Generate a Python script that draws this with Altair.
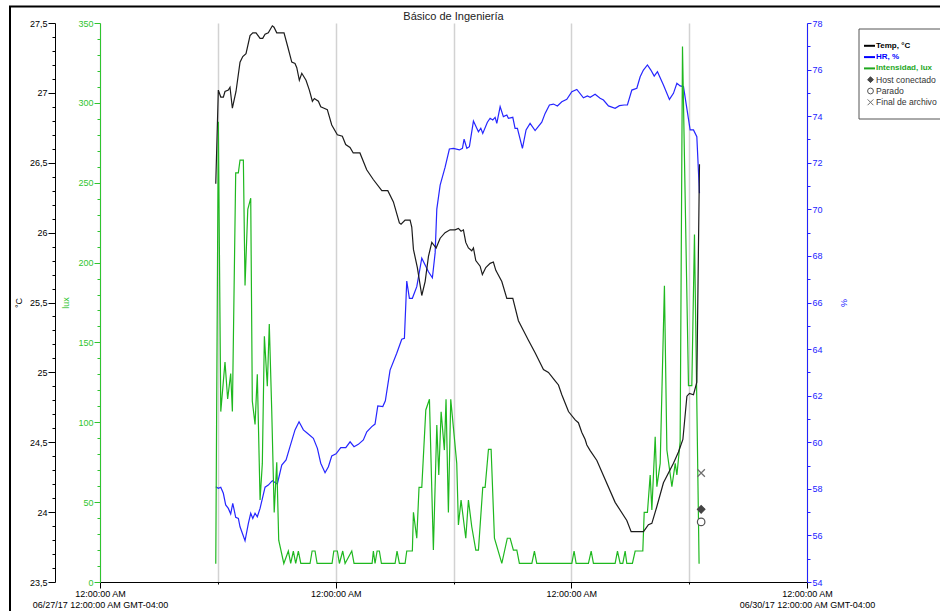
import altair as alt
import pandas as pd

# ---- logged series (hours since 06/27/17 12:00:00 AM GMT-04:00) ----
temp_hours = [
    11.79, 12.05, 12.30, 12.56, 12.73, 13.07, 13.24, 13.48, 13.85, 14.26,
    14.54, 14.87, 15.28, 15.56, 15.89, 16.30, 16.57, 16.81, 17.14, 17.55,
    17.72, 18.00, 18.74, 19.12, 19.53, 19.86, 20.04, 20.30, 20.55, 20.98,
    21.32, 21.63, 21.83, 22.24, 22.48, 22.82, 23.15, 23.60, 24.17, 24.68,
    25.02, 25.46, 25.79, 26.47, 27.16, 27.83, 28.70, 29.31, 29.88, 30.49,
    30.66, 31.07, 31.58, 31.75, 31.92, 32.32, 32.77, 33.11, 33.45, 33.79,
    34.23, 34.64, 35.14, 35.65, 36.16, 36.50, 36.77, 37.01, 37.25, 37.52,
    37.86, 38.03, 38.27, 38.71, 38.94, 39.29, 39.73, 40.06, 40.31, 40.92,
    41.43, 42.04, 42.61, 43.12, 43.63, 44.31, 45.16, 45.67, 46.35, 46.69,
    47.03, 47.54, 47.71, 48.39, 48.72, 49.07, 49.41, 49.58, 49.92, 50.60,
    52.46, 53.65, 54.09, 55.35, 55.85, 56.20, 56.71, 57.38, 58.40, 58.91,
    59.36, 59.77, 60.03, 60.44, 60.78, 61.05,
]
temp_vals = [
    26.35, 27.02, 26.97, 26.97, 27.01, 27.02, 27.04, 26.89, 27.01, 27.22,
    27.26, 27.28, 27.41, 27.43, 27.43, 27.39, 27.39, 27.42, 27.43, 27.48,
    27.47, 27.43, 27.43, 27.33, 27.22, 27.21, 27.18, 27.09, 27.14, 27.09,
    27.02, 26.94, 26.96, 26.94, 26.90, 26.89, 26.88, 26.77, 26.70, 26.69,
    26.63, 26.61, 26.57, 26.57, 26.45, 26.38, 26.30, 26.30, 26.22, 26.07,
    26.06, 26.09, 26.09, 26.04, 25.88, 25.75, 25.55, 25.65, 25.83, 25.93,
    25.89, 25.96, 26.00, 26.02, 26.02, 26.03, 26.01, 26.02, 25.93, 25.89,
    25.87, 25.89, 25.80, 25.76, 25.70, 25.75, 25.78, 25.79, 25.73, 25.65,
    25.53, 25.53, 25.37, 25.30, 25.23, 25.14, 25.02, 25.00, 24.94, 24.91,
    24.84, 24.75, 24.72, 24.66, 24.64, 24.57, 24.52, 24.48, 24.44, 24.37,
    24.07, 23.94, 23.86, 23.86, 23.91, 23.92, 24.04, 24.21, 24.35, 24.43,
    24.52, 24.83, 24.85, 24.84, 24.93, 26.49,
]

hr_hours = [
    11.79, 12.05, 12.30, 12.56, 12.80, 13.07, 13.31, 13.52, 13.82, 14.09,
    14.26, 14.77, 15.11, 15.35, 15.56, 15.79, 16.02, 16.30, 16.81, 17.14,
    17.55, 18.06, 18.51, 18.95, 19.35, 19.86, 20.27, 20.71, 21.06, 21.73,
    22.14, 22.48, 22.92, 23.26, 23.60, 24.04, 24.52, 25.03, 25.47, 25.87,
    26.31, 26.82, 27.17, 27.68, 28.01, 28.29, 28.80, 29.06, 29.54, 30.22,
    30.73, 31.00, 31.24, 31.51, 31.81, 32.26, 32.77, 33.45, 33.85, 34.13,
    34.30, 34.64, 35.14, 35.58, 35.99, 36.60, 36.91, 37.08, 37.36, 37.62,
    38.03, 38.54, 38.78, 38.98, 39.45, 39.73, 40.00, 40.24, 40.41, 40.75,
    41.08, 41.43, 41.59, 42.04, 42.27, 42.51, 43.02, 43.39, 43.80, 44.31,
    44.99, 45.33, 45.77, 46.18, 46.58, 47.03, 47.54, 48.05, 48.56, 49.23,
    49.64, 49.92, 50.42, 50.93, 51.27, 51.78, 52.46, 52.90, 53.38, 53.71,
    54.16, 54.67, 55.01, 55.34, 55.75, 56.10, 56.44, 56.77, 57.38, 57.99,
    58.40, 58.75, 59.08, 59.42, 60.10, 60.44, 60.78, 61.05,
]
hr_vals = [
    58.09, 58.02, 58.07, 57.81, 57.31, 57.16, 56.92, 57.38, 56.78, 56.73,
    56.37, 55.77, 56.52, 56.95, 56.73, 56.95, 56.80, 57.16, 58.07, 58.16,
    58.35, 58.21, 59.02, 59.24, 59.81, 60.53, 60.88, 60.53, 60.41, 60.17,
    59.74, 59.10, 58.69, 58.95, 59.41, 59.50, 59.77, 59.77, 60.02, 59.81,
    59.91, 60.10, 60.45, 60.67, 60.78, 61.56, 61.53, 61.78, 63.10, 63.82,
    64.42, 64.46, 66.92, 66.18, 66.18, 66.68, 67.90, 67.32, 67.06, 68.13,
    70.01, 71.04, 71.80, 72.59, 72.62, 72.55, 72.62, 73.01, 72.62, 72.69,
    73.79, 73.33, 73.48, 73.26, 73.74, 73.91, 73.84, 73.95, 73.69, 74.41,
    73.98, 74.05, 73.91, 73.95, 73.48, 73.48, 72.62, 73.41, 73.69, 73.38,
    73.74, 74.12, 74.48, 74.52, 74.44, 74.62, 74.72, 75.05, 75.15, 74.79,
    74.87, 74.81, 74.94, 74.77, 74.69, 74.44, 74.34, 74.45, 74.48, 74.48,
    75.12, 75.20, 75.69, 75.98, 76.20, 75.98, 75.72, 75.91, 75.34, 74.72,
    74.98, 75.41, 75.30, 75.27, 73.41, 73.41, 73.12, 70.69,
]

lux_hours = [
    11.79, 12.05, 12.30, 12.73, 13.00, 13.31, 13.48, 13.82, 14.09, 14.26,
    14.60, 14.77, 15.05, 15.35, 15.51, 15.79, 16.02, 16.30, 16.53, 16.74,
    17.04, 17.24, 17.49, 17.74, 18.00, 18.20, 18.72,
    19.18, 19.42, 19.69, 19.93, 20.20, 20.45, 21.39, 21.60, 21.90, 22.11,
    23.63, 23.81, 24.17, 24.38, 24.72, 24.96, 25.64, 25.87, 27.71, 27.84,
    28.01, 28.22, 28.45, 28.66, 30.05, 30.25, 30.49, 31.07, 31.24, 31.81,
    31.92, 32.26, 32.49, 32.77, 33.18, 33.55, 33.95, 34.30, 34.50, 34.74,
    35.07, 35.24, 35.48, 35.72, 36.33, 36.50, 36.77, 37.25, 37.52, 37.86,
    38.27, 38.54, 38.98, 39.22, 39.56, 39.83, 40.17, 40.92, 41.48, 41.77,
    42.10, 42.45, 42.71,
    43.98, 44.24, 44.48, 48.05, 48.28, 48.49, 49.74, 50.02, 50.25, 52.46,
    52.70, 52.97, 53.24, 53.48, 53.65, 54.22, 54.50, 55.28,
    55.42, 55.75, 56.03, 56.20, 56.54, 56.71, 57.05, 57.48, 57.73, 58.24,
    58.58, 58.75, 59.08, 59.32, 59.93, 60.27, 60.54, 61.01,
]
lux_vals = [
    11.4, 288.1, 106.7, 137.7, 114.6, 130.5, 106.7, 256.2, 256.2, 264.2,
    264.2, 185.6, 233.4, 240.3, 113.3, 98.7, 130.0, 51.3, 74.1, 153.8,
    122.6, 161.6, 107.1, 43.5, 75.0, 26.2, 11.6,
    19.4, 11.6, 19.4, 11.6, 19.4, 11.6, 11.6, 19.4, 19.4, 11.6,
    11.6, 19.4, 19.4, 11.6, 19.4, 11.6, 19.4, 11.6, 11.6, 19.4,
    11.6, 19.4, 19.4, 11.6, 11.6, 19.4, 11.6, 11.6, 19.4, 19.4,
    43.6, 27.4, 59.3, 59.3, 107.7, 114.4, 20.0, 98.3, 67.0, 106.6,
    82.6, 114.4, 43.6, 114.4, 74.3, 35.7, 51.3, 27.4, 51.3, 34.6,
    20.0, 20.0, 59.3, 59.3, 83.1, 83.1, 27.4, 11.7, 27.4, 27.4,
    20.0, 20.0, 11.6,
    11.6, 19.4, 11.6, 11.6, 19.4, 11.6, 11.6, 19.4, 11.6, 11.6,
    19.4, 11.6, 11.6, 19.4, 11.6, 11.6, 19.4, 19.4,
    43.6, 43.6, 67.0, 45.1, 91.0, 59.7, 74.3, 185.5, 82.6, 59.7,
    74.3, 67.0, 87.7, 335.3, 123.0, 123.0, 217.5, 11.4,
]

# ---- logger events (drawn on the temperature scale) ----
event_labels = ["Host conectado", "Parado", "Final de archivo"]
event_hours = [61.22, 61.22, 61.22]
event_vals = [24.02, 23.93, 24.28]

# ---- text ----
chart_title = "Básico de Ingeniería"
series_labels = ["Temp, °C", "HR, %", "Intensidad, lux"]
temp_title, lux_title, hr_title = "°C", "lux", "%"
tick_text = "12:00:00 AM"
start_stamp = "06/27/17 12:00:00 AM GMT-04:00"
end_stamp = "06/30/17 12:00:00 AM GMT-04:00"

# ---- scales ----
hour_domain = [0, 72]
temp_domain = [23.5, 27.5]
lux_domain = [0, 350]
hr_domain = [54, 78]

TEMP_C, HR_C, LUX_C = "#1c1c1c", "#2626ff", "#1fb81f"
LUX_AXIS_C, HR_AXIS_C = "#2fc42f", "#2222ff"
MARK_C = "#444444"

x_ticks = [0, 12, 24, 36, 48, 60, 72]
temp_ticks = [round(23.5 + 0.1 * i, 1) for i in range(41)]
lux_ticks = list(range(0, 351, 10))
hr_ticks = list(range(54, 79))

x_label_expr = (
    f"datum.value == 0 ? ['{tick_text}', '{start_stamp}'] : "
    f"datum.value == 72 ? ['{tick_text}', '{end_stamp}'] : "
    f"datum.value % 24 == 0 ? '{tick_text}' : ''"
)
x_axis = alt.Axis(
    values=x_ticks, title=None, grid=True, gridColor="#d2d2d2", gridWidth=1.5,
    domainColor="#000000", tickColor="#000000",
    tickSize={"condition": {"test": "datum.value % 24 == 0", "value": 6}, "value": 2},
    labelExpr=x_label_expr, labelColor="#000000", labelFontSize=9,
    labelPadding=1, labelFlush=False, labelOverlap=False, labelLineHeight=11,
)
x_enc = alt.X("h:Q", scale=alt.Scale(domain=hour_domain, nice=False, zero=False), axis=x_axis)

half_test = "abs(datum.value * 2 - round(datum.value * 2)) < 0.01"
temp_axis = alt.Axis(
    orient="left", offset=45, values=temp_ticks, grid=False,
    domainColor="#000000", tickColor="#000000", labelColor="#000000",
    tickSize={"condition": {"test": half_test, "value": 7}, "value": 3},
    labelExpr=(f"{half_test} ? (datum.value % 1 == 0 ? format(datum.value, 'd') : "
               "replace(format(datum.value, '.1f'), '.', ',')) : ''"),
    labelFontSize=9, labelPadding=1, labelOverlap=False,
    title=temp_title, titleColor="#000000", titleFontSize=9, titleFontWeight="normal",
    titlePadding=6,
)
lux_axis = alt.Axis(
    orient="left", offset=0, values=lux_ticks, grid=False,
    domainColor=LUX_AXIS_C, tickColor=LUX_AXIS_C, labelColor=LUX_AXIS_C,
    tickSize={"condition": {"test": "datum.value % 50 == 0", "value": 6}, "value": 3},
    labelExpr="datum.value % 50 == 0 ? format(datum.value, 'd') : ''",
    labelFontSize=9, labelPadding=1, labelOverlap=False,
    title=lux_title, titleColor=LUX_AXIS_C, titleFontSize=9, titleFontWeight="normal",
    titlePadding=7,
)
hr_axis = alt.Axis(
    orient="right", values=hr_ticks, grid=False,
    domainColor=HR_AXIS_C, tickColor=HR_AXIS_C, labelColor=HR_AXIS_C,
    tickSize={"condition": {"test": "datum.value % 2 == 0", "value": 4}, "value": 3},
    labelExpr="datum.value % 2 == 0 ? format(datum.value, 'd') : ''",
    labelFontSize=9, labelPadding=1, labelOverlap=False,
    title=hr_title, titleColor=HR_AXIS_C, titleFontSize=9, titleFontWeight="normal",
    titlePadding=16,
)

temp_df = pd.DataFrame({"h": temp_hours, "v": temp_vals})
hr_df = pd.DataFrame({"h": hr_hours, "v": hr_vals})
lux_df = pd.DataFrame({"h": lux_hours, "v": lux_vals})
event_df = pd.DataFrame({"h": event_hours, "v": event_vals, "label": event_labels})

legend_labels = series_labels + event_labels
legend_df = pd.DataFrame({
    "label": legend_labels,
    "bold": [True, True, True, False, False, False],
})

x_shape = "M-1,-1L1,1M-1,1L1,-1"
shape_enc = alt.Shape("label:N", scale=alt.Scale(domain=event_labels, range=["diamond", "circle", x_shape]), legend=None)
fill_enc = alt.Fill("label:N", scale=alt.Scale(domain=event_labels, range=[MARK_C, "#ffffff", "#ffffff"]), legend=None)
stroke_enc = alt.Stroke("label:N", scale=alt.Scale(domain=event_labels, range=[MARK_C, "#555555", "#6e6e6e"]), legend=None)
text_color = alt.Color("label:N", scale=alt.Scale(domain=legend_labels,
                       range=["#000000", "#0000ff", "#1fa81f", "#333333", "#333333", "#333333"]), legend=None)
row_y = alt.Y("label:N", scale=alt.Scale(type="point", domain=legend_labels, range=[22.8, 79.3], padding=0), axis=None)

one = pd.DataFrame({"k": [0]})
title_df = pd.DataFrame({"t": [chart_title]})

# outer frame
frame = alt.Chart(one).mark_rect(fillOpacity=0, stroke="#000000", strokeWidth=2).encode(
    x=alt.value(-90), x2=alt.value(845), y=alt.value(-16.5), y2=alt.value(600)
)
# heading, centred over the plot
heading = alt.Chart(title_df).mark_text(
    align="center", baseline="alphabetic", fontSize=11, color="#222222"
).encode(x=alt.value(353.5), y=alt.value(-3.5), text="t:N")

hr_line = alt.Chart(hr_df).mark_line(color=HR_C, strokeWidth=1.2).encode(
    x=x_enc, y=alt.Y("v:Q", scale=alt.Scale(domain=hr_domain, nice=False, zero=False), axis=hr_axis)
)
lux_line = alt.Chart(lux_df).mark_line(color=LUX_C, strokeWidth=1.2).encode(
    x=x_enc, y=alt.Y("v:Q", scale=alt.Scale(domain=lux_domain, nice=False, zero=False), axis=lux_axis)
)
temp_line = alt.Chart(temp_df).mark_line(color=TEMP_C, strokeWidth=1.2).encode(
    x=x_enc, y=alt.Y("v:Q", scale=alt.Scale(domain=temp_domain, nice=False, zero=False), axis=temp_axis)
)
events = alt.Chart(event_df).mark_point(size=56, strokeWidth=1.2, opacity=1).encode(
    x=x_enc, y=alt.Y("v:Q", scale=alt.Scale(domain=temp_domain, nice=False, zero=False), axis=None),
    shape=shape_enc, fill=fill_enc, stroke=stroke_enc,
)

# legend box
legend_box = alt.Chart(one).mark_rect(fill="#ffffff", stroke="#555555", strokeWidth=1).encode(
    x=alt.value(759), x2=alt.value(850), y=alt.value(6), y2=alt.value(96)
)
legend_lines = alt.Chart(legend_df).transform_filter("datum.bold").mark_rule(strokeWidth=2).encode(
    x=alt.value(764), x2=alt.value(775), y=row_y, color=text_color
)
legend_marks = alt.Chart(legend_df).transform_filter("!datum.bold").mark_point(size=34, strokeWidth=1, opacity=1).encode(
    x=alt.value(770.5), y=row_y, shape=shape_enc, fill=fill_enc, stroke=stroke_enc
)
legend_bold = alt.Chart(legend_df).transform_filter("datum.bold").mark_text(
    align="left", baseline="middle", fontSize=8, fontWeight="bold"
).encode(x=alt.value(776), y=row_y, text="label:N", color=text_color)
legend_plain = alt.Chart(legend_df).transform_filter("!datum.bold").mark_text(
    align="left", baseline="middle", fontSize=8.6
).encode(x=alt.value(776), y=row_y, text="label:N", color=text_color)

chart = alt.layer(
    frame, heading, hr_line, lux_line, temp_line, events,
    legend_box, legend_lines, legend_marks, legend_bold, legend_plain,
).resolve_scale(y="independent").resolve_axis(y="independent").properties(
    width=707, height=559,
    padding={"left": 100, "top": 23, "right": 133, "bottom": 29},
    autosize=alt.AutoSizeParams(type="none"),
).configure(font="Liberation Sans", background="#ffffff").configure_view(strokeWidth=0)

chart.save("out.html", embed_options={"renderer": "svg", "actions": False})
